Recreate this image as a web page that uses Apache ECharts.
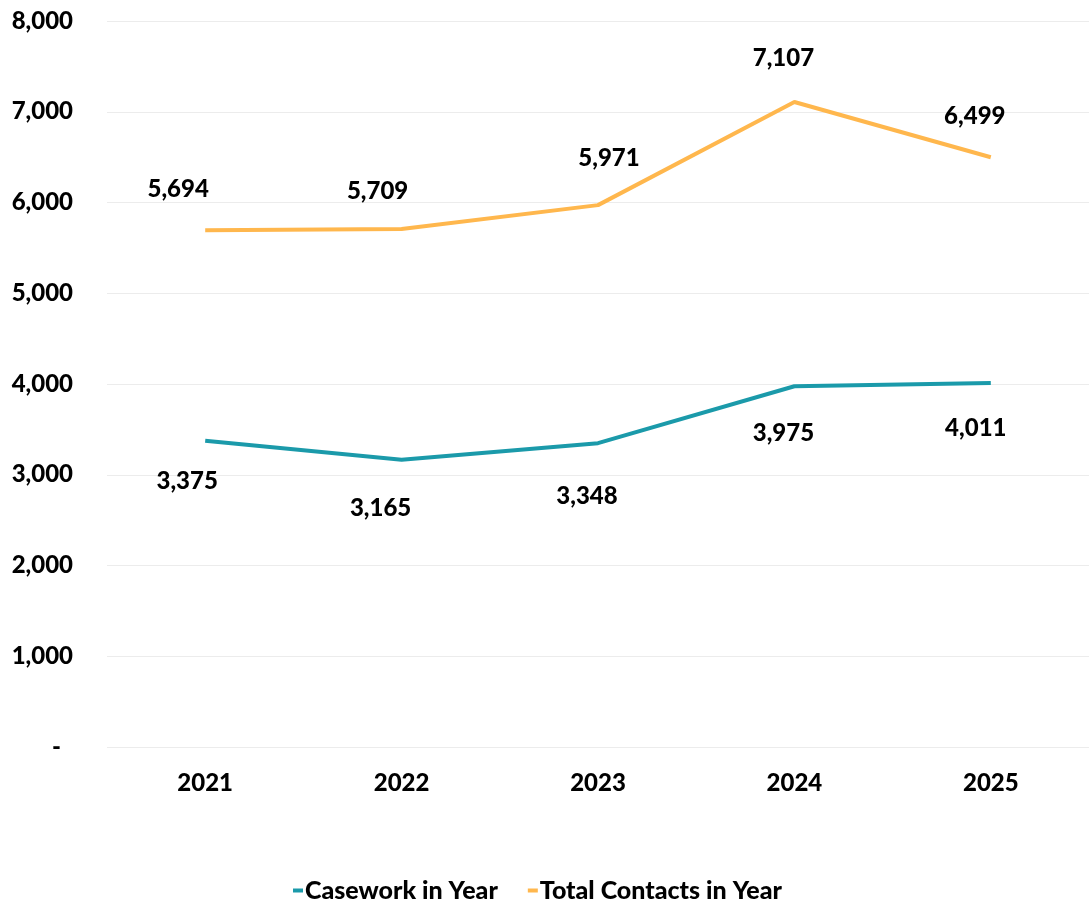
<!DOCTYPE html>
<html>
<head>
<meta charset="utf-8">
<style>
  html, body { margin: 0; padding: 0; background: #ffffff; }
  #chart { width: 1089px; height: 906px; }
</style>
<script src="https://cdn.jsdelivr.net/npm/echarts@6/dist/echarts.min.js"></script>
</head>
<body>
<div id="chart"></div>
<script>
// Yearly figures
const years = ['2021', '2022', '2023', '2024', '2025'];
const casework = [3375, 3165, 3348, 3975, 4011];
const totalContacts = [5694, 5709, 5971, 7107, 6499];
const seriesNames = ['Casework in Year', 'Total Contacts in Year'];

// Hand-placed label nudges [dx, dy] relative to each point
const caseworkLabelNudge = [[-18, 41], [-21, 48], [-11, 53], [-11, 47], [-15, 45]];
const contactsLabelNudge = [[-27, -41], [-24, -38], [11, -47], [-11, -44], [-16, -41]];

const TEAL = '#1b9aaa';
const AMBER = '#ffb74d';
const FONT = 'Lato';
const WEIGHT = 900;
const fmt = v => v.toLocaleString('en-US');

const labelText = {
  color: '#000000',
  fontFamily: FONT,
  fontWeight: WEIGHT,
  fontSize: 24,
  textBorderWidth: 0
};

function buildData(values, nudges) {
  return values.map((v, i) => ({
    value: v,
    label: Object.assign({ offset: nudges[i] }, labelText)
  }));
}

function lineSeries(name, values, nudges, color) {
  return {
    name: name,
    type: 'line',
    data: buildData(values, nudges),
    symbol: 'circle',
    symbolSize: 1,
    showSymbol: true,
    itemStyle: { color: 'rgba(0,0,0,0)', borderWidth: 0 },
    lineStyle: { color: color, width: 4 },
    emphasis: { disabled: true },
    label: Object.assign({
      show: true,
      position: 'inside',
      formatter: p => fmt(p.value)
    }, labelText),
    z: 3
  };
}

const chart = echarts.init(document.getElementById('chart'), null, { renderer: 'canvas' });

chart.setOption({
  animation: false,
  backgroundColor: '#ffffff',
  grid: { left: 107, right: -3, top: 21, bottom: 159, containLabel: false },
  legend: {
    bottom: -2,
    left: 288,
    icon: 'rect',
    itemWidth: 10,
    itemHeight: 4,
    itemGap: 30,
    data: [
      { name: seriesNames[0], itemStyle: { color: TEAL, opacity: 1 } },
      { name: seriesNames[1], itemStyle: { color: AMBER, opacity: 1 } }
    ],
    textStyle: { color: '#000000', fontFamily: FONT, fontWeight: WEIGHT, fontSize: 25, padding: [0, 0, 0, -3] }
  },
  xAxis: {
    type: 'category',
    data: years,
    boundaryGap: true,
    axisLine: { show: false },
    axisTick: { show: false },
    axisLabel: { color: '#000000', fontFamily: FONT, fontWeight: WEIGHT, fontSize: 24, margin: 24 }
  },
  yAxis: {
    type: 'value',
    min: 0,
    max: 8000,
    interval: 1000,
    axisLine: { show: false },
    axisTick: { show: false },
    splitLine: { lineStyle: { color: '#ececec', width: 1 } },
    axisLabel: {
      margin: 34,
      formatter: v => (v === 0 ? '{z|-}' : fmt(v)),
      color: '#000000',
      fontFamily: FONT,
      fontWeight: WEIGHT,
      fontSize: 24,
      rich: {
        z: { color: '#000000', fontFamily: FONT, fontWeight: WEIGHT, fontSize: 24, padding: [0, 12, 0, 0] }
      }
    }
  },
  series: [
    lineSeries(seriesNames[0], casework, caseworkLabelNudge, TEAL),
    lineSeries(seriesNames[1], totalContacts, contactsLabelNudge, AMBER)
  ]
});
</script>
</body>
</html>
